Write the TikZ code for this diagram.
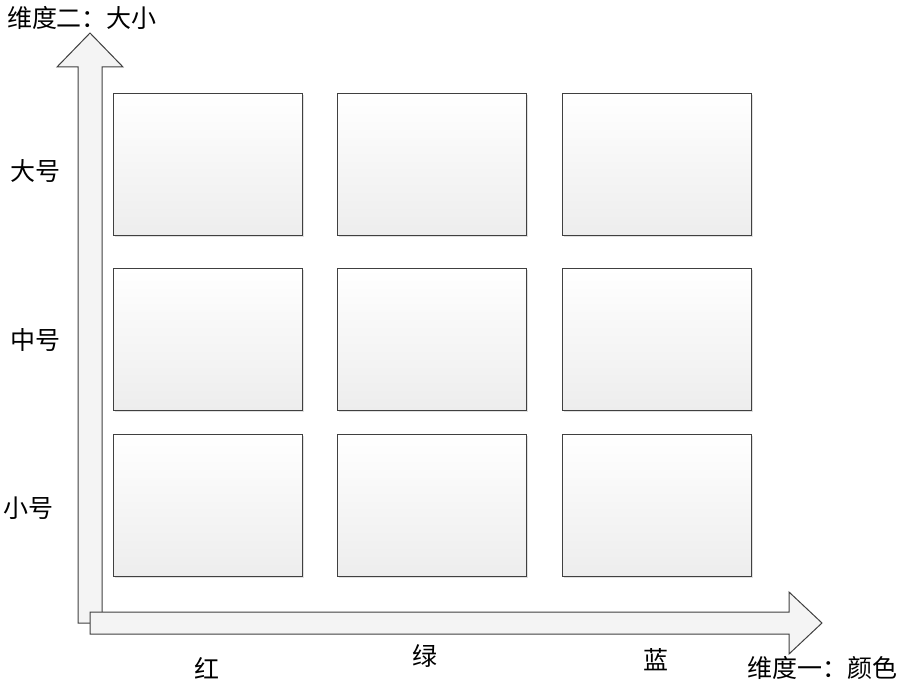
\documentclass[tikz,border=0pt]{standalone}
\usepackage{fontspec}
\newfontfamily\cjk{Noto Sans CJK SC}
\usetikzlibrary{shadows}
\definecolor{linegray}{HTML}{404040}
\definecolor{boxbottom}{HTML}{EDEDED}
\definecolor{arrowfill}{HTML}{F4F4F4}
\begin{document}
\begin{tikzpicture}[x=1pt,y=-1pt]
		\tikzstyle{cell}=[rectangle,draw=linegray,line width=1pt,top color=white,bottom color=boxbottom,
			minimum width=189pt,minimum height=142pt,inner sep=0pt,
			drop shadow={shadow xshift=1.5pt,shadow yshift=-1.5pt,fill=black!12,opacity=1}]
		\tikzstyle{axis}=[draw=linegray,line width=1pt,fill=arrowfill]
		\tikzstyle{label}=[font=\cjk\fontsize{25}{25}\selectfont,inner sep=0pt]

		\useasboundingbox (0,0) rectangle (903,687);

		% vertical axis
		\path[axis] (78,623) -- (78,67) -- (57,67) -- (90,33) -- (123,67) -- (102,67) -- (102,623) -- cycle;
		% horizontal axis
		\path[axis] (90,612) -- (789,612) -- (789,592) -- (822,623) -- (789,654) -- (789,634) -- (90,634) -- cycle;

		\node [cell] (big-red)   at (207.5,165) {};
		\node [cell] (big-green) at (432,165) {};
		\node [cell] (big-blue)  at (656.5,165) {};
		\node [cell] (mid-red)   at (207.5,339.5) {};
		\node [cell] (mid-green) at (432,339.5) {};
		\node [cell] (mid-blue)  at (656.5,339.5) {};
		\node [cell] (small-red)   at (207.5,505) {};
		\node [cell] (small-green) at (432,505) {};
		\node [cell] (small-blue)  at (656.5,505) {};

		\node [label] (dim2)  at (82,18) {维度二：大小};
		\node [label] (big)   at (35,171) {大号};
		\node [label] (mid)   at (35,340) {中号};
		\node [label] (small) at (28,508) {小号};

		\node [label] (red)   at (207,668) {红};
		\node [label] (green) at (425,656) {绿};
		\node [label] (blue)  at (656,660) {蓝};
		\node [label] (dim1)  at (822,668) {维度一：颜色};
\end{tikzpicture}
\end{document}
